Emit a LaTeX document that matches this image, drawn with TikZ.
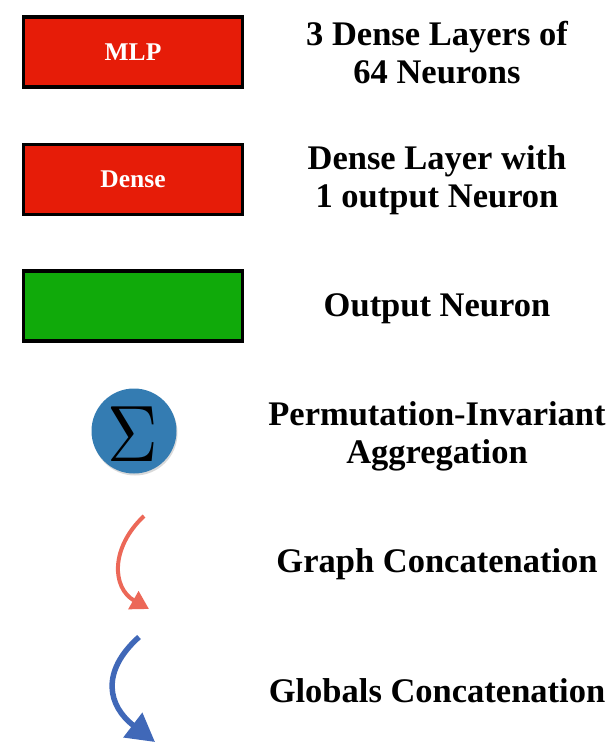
\documentclass[tikz,border=0pt]{standalone}
\usepackage{fontspec}
\usepackage{graphicx}
\setmainfont{Liberation Serif}
\usetikzlibrary{arrows.meta,shadows}
\definecolor{boxred}{RGB}{230,28,8}
\definecolor{boxgreen}{RGB}{16,170,10}
\definecolor{sigblue}{RGB}{52,124,178}
\definecolor{arrred}{RGB}{236,104,88}
\definecolor{arrblue}{RGB}{64,104,184}
\tikzset{
  legbox/.style={draw=black,line width=3.5pt,minimum width=219pt,minimum height=70pt,inner sep=0pt},
  boxlabel/.style={text=white,font=\bfseries\fontsize{25.5}{30}\selectfont},
  legtext/.style={font=\bfseries\fontsize{34.5}{38}\selectfont,align=center,text=black},
}
\begin{document}
\begin{tikzpicture}[x=1pt,y=-1pt]
\useasboundingbox (0,0) rectangle (615,744);
\node[legbox,fill=boxred] (mlp) at (133,52) {};
\node[boxlabel] (mlplab) at (mlp.center) {MLP};
\node[legbox,fill=boxred] (dense) at (133,179.5) {};
\node[boxlabel] (denselab) at (dense.center) {Dense};
\node[legbox,fill=boxgreen] (out) at (133,306) {};
\node[circle,fill=sigblue,minimum size=85pt,inner sep=0pt,drop shadow={shadow xshift=1pt,shadow yshift=-2pt,opacity=0.3}] (sig) at (134,431) {};
\node[inner sep=0pt] (sigma) at (133,434.5) {\scalebox{7}[8]{$\Sigma$}};
\coordinate (r1) at (144,516);
\coordinate (r2) at (149,609);
\coordinate (b1) at (139,637);
\coordinate (b2) at (155,742);
\draw[arrred,line width=4pt,-{Triangle[width=20pt,length=18pt]}] (r1) .. controls (110,548) and (112,588) .. (r2);
\draw[arrblue,line width=5.5pt,-{Triangle[width=30pt,length=28pt]}] (b1) .. controls (100,672) and (108,706) .. (b2);
\node[legtext] (t1) at (437,53) {3 Dense Layers of\\64 Neurons};
\node[legtext] (t2) at (437,180) {Dense Layer with\\1 output Neuron};
\node[legtext] (t3) at (437,309) {Output Neuron};
\node[legtext] (t4) at (437,436) {Permutation-Invariant\\Aggregation};
\node[legtext] (t5) at (437,564) {Graph Concatenation};
\node[legtext] (t6) at (437,691) {Globals Concatenation};
\end{tikzpicture}
\end{document}
